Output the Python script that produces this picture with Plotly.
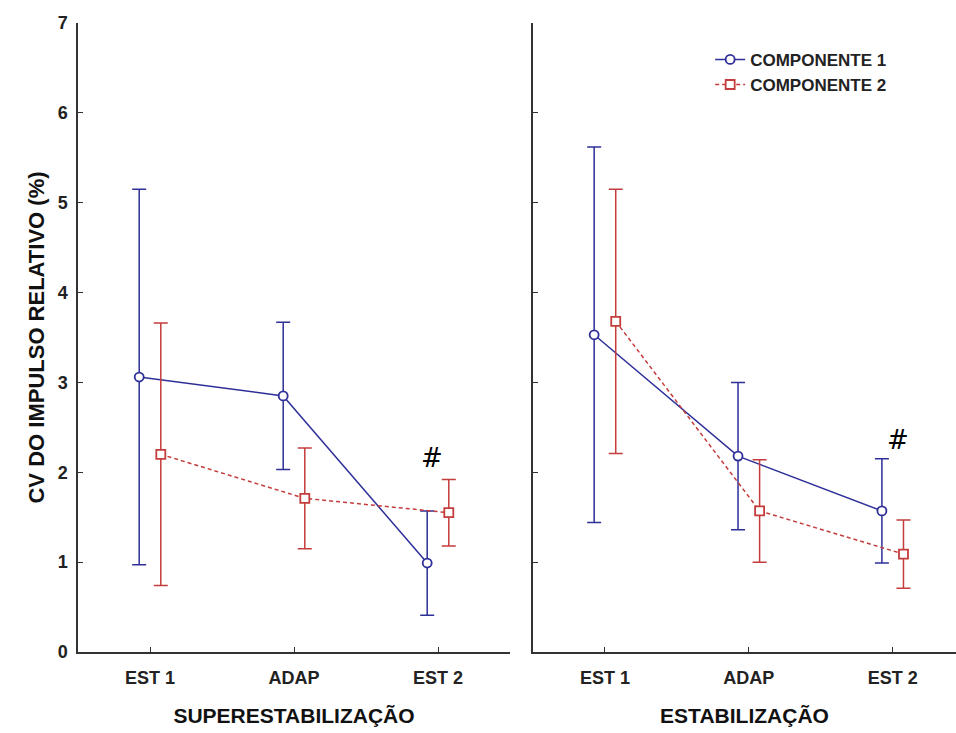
import plotly.graph_objects as go

# Session labels and group offsets
categories = ["EST 1", "ADAP", "EST 2"]
positions = [0, 1, 2]
offset = 0.075

# SUPERESTABILIZAÇÃO panel: mean and error half-width
sup_c1_mean = [3.06, 2.85, 0.99]
sup_c1_err = [2.09, 0.82, 0.58]
sup_c2_mean = [2.20, 1.71, 1.55]
sup_c2_err = [1.46, 0.56, 0.37]

# ESTABILIZAÇÃO panel
est_c1_mean = [3.53, 2.18, 1.57]
est_c1_err = [2.09, 0.82, 0.58]
est_c2_mean = [3.68, 1.57, 1.09]
est_c2_err = [1.47, 0.57, 0.38]

# significance marks (category index, y)
sup_mark = (2 - 0.04, 2.16)
est_mark = (2 + 0.04, 2.36)

BLUE = "#2e2f98"
RED = "#c43c3c"
AXIS = "#333333"
FONT = "Liberation Sans"

fig = go.Figure()


def add_series(xaxis, yaxis, mean, err, color, dash, symbol, name, shift, show):
    fig.add_trace(go.Scatter(
        x=[p + shift for p in positions], y=mean,
        xaxis=xaxis, yaxis=yaxis,
        mode="lines+markers", name=name, showlegend=show, legendgroup=name,
        line=dict(color=color, width=1.5, dash=dash),
        marker=dict(symbol=symbol, size=9, color="white",
                    line=dict(color=color, width=1.8)),
        error_y=dict(type="data", array=err, symmetric=True,
                     color=color, thickness=1.5, width=7),
    ))


add_series("x", "y", sup_c1_mean, sup_c1_err, BLUE, "solid", "circle", "COMPONENTE 1", -offset, True)
add_series("x", "y", sup_c2_mean, sup_c2_err, RED, "4px,3px", "square", "COMPONENTE 2", offset, True)
add_series("x2", "y2", est_c1_mean, est_c1_err, BLUE, "solid", "circle", "COMPONENTE 1", -offset, False)
add_series("x2", "y2", est_c2_mean, est_c2_err, RED, "4px,3px", "square", "COMPONENTE 2", offset, False)

W, H = 956, 733
left_px, mid_l, mid_r = 78, 510, 533

xcommon = dict(
    tickvals=positions, ticktext=categories, ticks="inside", ticklen=5,
    tickcolor=AXIS, showline=True, linecolor=AXIS, linewidth=1.5,
    showgrid=False, zeroline=False, ticklabelstandoff=9,
    tickfont=dict(family=FONT, size=18, color="#222222", weight="bold"),
    title_font=dict(family=FONT, size=21, color="#111111", weight="bold"),
    title_standoff=21,
)
ycommon = dict(
    range=[0, 7], dtick=1, ticks="inside", ticklen=5, tickcolor=AXIS,
    showline=True, linecolor=AXIS, linewidth=1.5, showgrid=False, zeroline=False,
    tickfont=dict(family=FONT, size=18, color="#222222", weight="bold"),
)

fig.update_layout(
    width=W, height=H,
    margin=dict(l=left_px, r=0, t=23, b=81),
    plot_bgcolor="white", paper_bgcolor="white",
    xaxis=dict(domain=[0, (mid_l - left_px) / (W - left_px)], range=[-0.5, 2.5],
               title_text="SUPERESTABILIZAÇÃO", anchor="y", **xcommon),
    xaxis2=dict(domain=[(mid_r - left_px) / (W - left_px), 1], range=[-0.5, 2.44],
                title_text="ESTABILIZAÇÃO", anchor="y2", **xcommon),
    yaxis=dict(anchor="x", title_text="CV DO IMPULSO RELATIVO (%)",
               title_font=dict(family=FONT, size=22, color="#111111", weight="bold"),
               title_standoff=7, ticklabelstandoff=5, **ycommon),
    yaxis2=dict(anchor="x2", showticklabels=False, **ycommon),
    legend=dict(x=0.72, y=0.97, xanchor="left", yanchor="top",
                bgcolor="rgba(0,0,0,0)", tracegroupgap=0, itemwidth=30,
                font=dict(family=FONT, size=17, color="#222222", weight="bold")),
    showlegend=True,
)

for xa, ya, (mx, my) in [("x", "y", sup_mark), ("x2", "y2", est_mark)]:
    fig.add_annotation(x=mx, y=my, xref=xa, yref=ya, text="#", showarrow=False,
                       font=dict(family="DejaVu Sans", size=26, color="black"))

fig.write_html("out.html")
